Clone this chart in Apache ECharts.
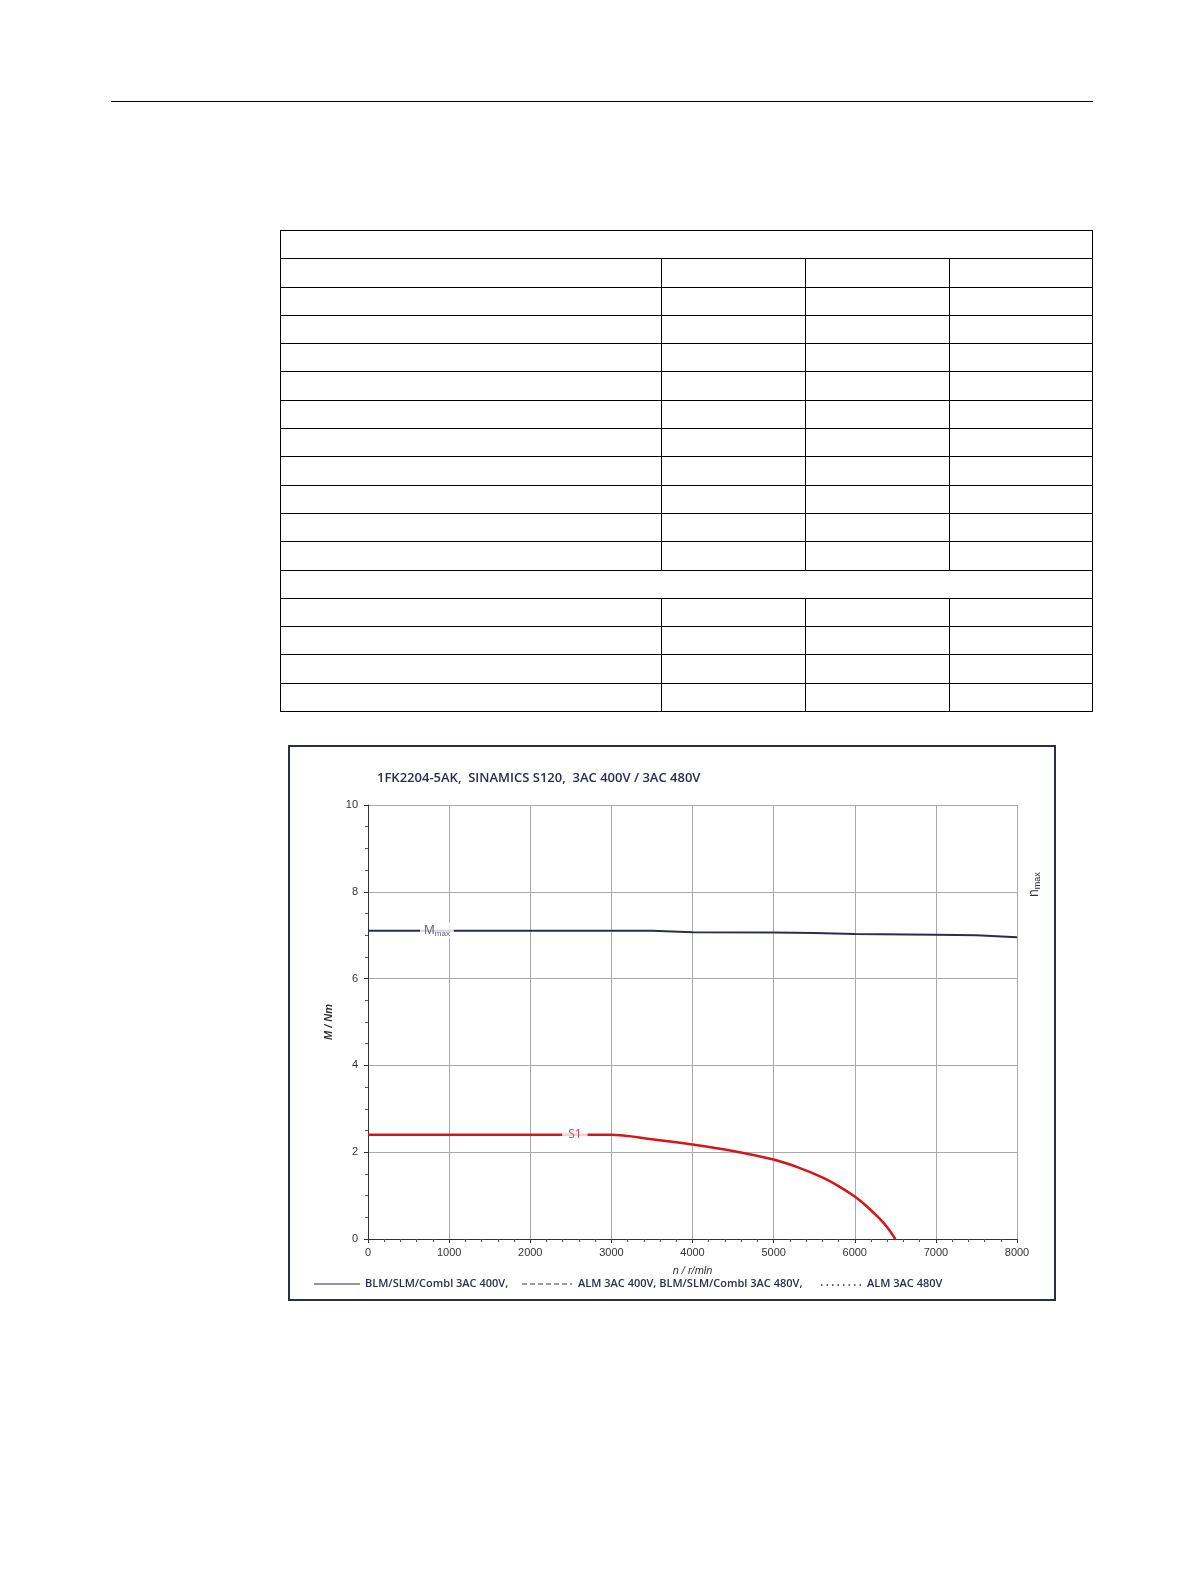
<!DOCTYPE html>
<html><head><meta charset="utf-8">
<script src="https://cdn.jsdelivr.net/npm/echarts@6/dist/echarts.min.js"></script>
<style>
html,body{margin:0;padding:0;overflow:hidden}
body{width:1191px;height:1500px;background:#fff;position:relative;font-family:"Open Sans",sans-serif}
#rule{position:absolute;left:111px;top:101px;width:982px;height:1px;background:#000}
table{position:absolute;left:280px;top:230px;width:813px;border-collapse:collapse}
td{border:1px solid #000;height:27.3px;padding:0}
#box{position:absolute;left:288px;top:745px;width:764px;height:552px;border:2px solid #2b2d4f}
#chart{width:764px;height:552px}
</style></head><body>
<div id="rule"></div>
<table id="tbl"></table>
<div id="box"><div id="chart"></div></div>
<script>
const xTicks=[0,1000,2000,3000,4000,5000,6000,7000,8000];
const mmaxX=[0,1000,2000,3000,3500,4000,5000,5500,6000,7000,7500,8000];
const mmaxY=[7.1,7.1,7.1,7.1,7.1,7.07,7.06,7.05,7.03,7.01,7.0,6.95];
const s1X=[0,1000,2000,3000,3500,4000,4500,5000,5300,5600,5800,6000,6150,6300,6400,6500];
const s1Y=[2.4,2.4,2.4,2.4,2.3,2.18,2.03,1.83,1.65,1.42,1.22,0.98,0.75,0.48,0.27,0];
const title="1FK2204-5AK,  SINAMICS S120,  3AC 400V / 3AC 480V";

let t=document.getElementById('tbl'),h='';
for(let r=0;r<17;r++){
  if(r===0||r===12) h+='<tr><td colspan="4"></td></tr>';
  else h+='<tr><td style="width:380px"></td><td style="width:143px"></td><td style="width:143px"></td><td></td></tr>';
}
t.innerHTML=h;

const c=echarts.init(document.getElementById('chart'));
const toPairs=(xs,ys)=>xs.map((x,i)=>[x,ys[i]]);
c.setOption({
 animation:false,
 title:{text:title,left:82,top:20,textStyle:{fontFamily:"Open Sans",fontSize:13,fontWeight:600,color:'#2b2d4f'}},
 grid:{left:78,top:58,width:649,height:434},
 xAxis:{type:'value',min:0,max:8000,interval:1000,
   name:'n / r/mln',nameLocation:'middle',nameGap:26,nameTextStyle:{fontStyle:'italic',fontSize:11,color:'#333'},
   axisLine:{lineStyle:{color:'#333'}},axisTick:{show:true,length:4,lineStyle:{color:'#333'}},
   minorTick:{show:true,splitNumber:5,length:3,lineStyle:{color:'#555'}},
   axisLabel:{fontSize:11,color:'#333',margin:8,formatter:v=>String(v)},
   splitLine:{lineStyle:{color:'#aaa'}}},
 yAxis:{type:'value',min:0,max:10,interval:2,
   name:'M / Nm',nameLocation:'middle',nameGap:34,nameTextStyle:{fontStyle:'italic',fontWeight:'bold',fontSize:11,color:'#333'},
   axisLine:{show:true,lineStyle:{color:'#333'}},axisTick:{show:true,length:4,lineStyle:{color:'#333'}},
   minorTick:{show:true,splitNumber:4,length:3,lineStyle:{color:'#555'}},
   axisLabel:{fontSize:11,color:'#333',margin:10},
   splitLine:{lineStyle:{color:'#aaa'}}},
 series:[
  {type:'line',data:toPairs(mmaxX,mmaxY),symbol:'none',lineStyle:{color:'#2b2d4f',width:2},z:3},
  {type:'line',data:toPairs(s1X,s1Y),symbol:'none',smooth:0.3,lineStyle:{color:'#d8141b',width:2.5},z:3},
  {type:'scatter',data:[[850,7.1]],symbolSize:0,z:5,
   label:{show:true,position:'inside',formatter:'{a|M}{b|max}',backgroundColor:'#fff',padding:[1,4],
     rich:{a:{fontSize:12,color:'#2b2d4f',fontFamily:"Open Sans"},b:{fontSize:8,color:'#2b2d4f',padding:[6,0,0,0]}}}},
  {type:'scatter',data:[[2550,2.4]],symbolSize:0,z:5,
   label:{show:true,position:'inside',formatter:'S1',backgroundColor:'#fff',padding:[1,6],color:'#d8141b',fontSize:12,fontFamily:"Open Sans"}}
 ],
 graphic:[
  {type:'text',x:737,y:150,rotation:Math.PI/2,style:{text:'{a|n}{b|max}',rich:{a:{fontSize:14,fill:'#2b2d4f'},b:{fontSize:9,fill:'#2b2d4f',padding:[6,0,0,0]}}}},
  {type:'line',shape:{x1:24,y1:537,x2:70,y2:537},style:{stroke:'#2b2d4f',lineWidth:1.2}},
  {type:'text',x:75,y:531,style:{text:'BLM/SLM/Combl 3AC 400V,',fontSize:11,fontWeight:600,fill:'#2b2d4f',fontFamily:"Open Sans"}},
  {type:'line',shape:{x1:232,y1:537,x2:282,y2:537},style:{stroke:'#2b2d4f',lineWidth:1.2,lineDash:[5,3]}},
  {type:'text',x:288,y:531,style:{text:'ALM 3AC 400V, BLM/SLM/Combl 3AC 480V,',fontSize:11,fontWeight:600,fill:'#2b2d4f',fontFamily:"Open Sans"}},
  {type:'line',shape:{x1:531,y1:538,x2:572,y2:538},style:{stroke:'#2b2d4f',lineWidth:1.5,lineDash:[1.5,4]}},
  {type:'text',x:577,y:531,style:{text:'ALM 3AC 480V',fontSize:11,fontWeight:600,fill:'#2b2d4f',fontFamily:"Open Sans"}}
 ]
});
</script></body></html>
